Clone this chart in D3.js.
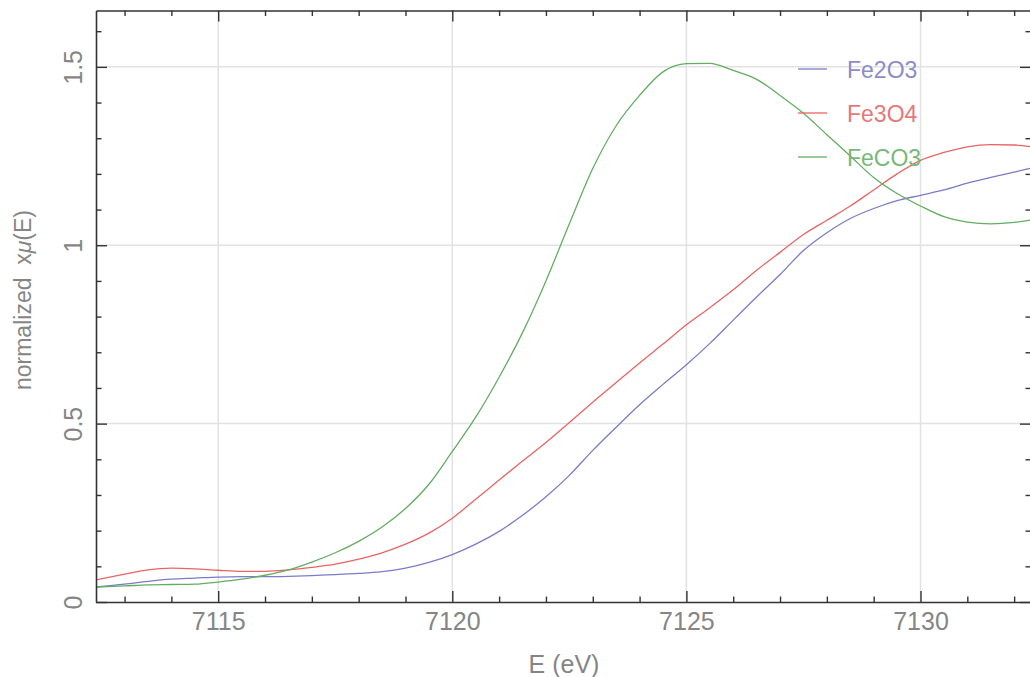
<!DOCTYPE html>
<html>
<head>
<meta charset="utf-8">
<script src="https://cdn.jsdelivr.net/npm/d3@7"></script>
<style>
  html, body { margin: 0; padding: 0; background: #fff; }
  svg { display: block; }
  text { font-family: "Liberation Sans", "DejaVu Sans", sans-serif; fill: #858585; }
</style>
</head>
<body>
<svg id="chart" width="1030" height="677"></svg>
<script>
// Photon energy grid (eV)
const energy = [7112.39, 7113, 7113.5, 7114, 7114.5, 7115, 7115.5, 7116, 7116.5, 7117,
  7117.5, 7118, 7118.5, 7119, 7119.5, 7120, 7120.5, 7121, 7121.5, 7122,
  7122.5, 7123, 7123.5, 7124, 7124.5, 7125, 7125.5, 7126, 7126.5, 7127,
  7127.5, 7128, 7128.5, 7129, 7129.5, 7130, 7130.5, 7131, 7131.5, 7132, 7132.36];

// Normalized absorption for each reference compound
const fe2o3 = [0.042, 0.050, 0.058, 0.064, 0.067, 0.070, 0.071, 0.071, 0.072, 0.074,
  0.077, 0.080, 0.085, 0.095, 0.111, 0.133, 0.162, 0.198, 0.243, 0.295,
  0.355, 0.425, 0.490, 0.553, 0.610, 0.665, 0.725, 0.790, 0.855, 0.918,
  0.985, 1.035, 1.075, 1.103, 1.125, 1.140, 1.155, 1.174, 1.190, 1.205, 1.216];

const fe3o4 = [0.062, 0.078, 0.090, 0.095, 0.093, 0.089, 0.086, 0.086, 0.090, 0.097,
  0.106, 0.120, 0.138, 0.162, 0.193, 0.235, 0.288, 0.342, 0.395, 0.447,
  0.503, 0.560, 0.615, 0.670, 0.723, 0.777, 0.825, 0.875, 0.930, 0.980,
  1.030, 1.070, 1.110, 1.155, 1.200, 1.238, 1.260, 1.276, 1.282, 1.281, 1.276];

const feco3 = [0.042, 0.045, 0.048, 0.049, 0.050, 0.056, 0.064, 0.075, 0.090, 0.112,
  0.138, 0.170, 0.210, 0.262, 0.330, 0.422, 0.518, 0.630, 0.755, 0.900,
  1.060, 1.215, 1.335, 1.420, 1.486, 1.509, 1.510, 1.490, 1.465, 1.420,
  1.370, 1.310, 1.250, 1.190, 1.145, 1.110, 1.080, 1.065, 1.060, 1.064, 1.071];

const seriesNames = ["Fe2O3", "Fe3O4", "FeCO3"];
const seriesColors = ["#7b7bc9", "#e86464", "#62ad62"];
const legendColors = ["#8c8cc8", "#e67878", "#78b878"];

const xMajorTicks = [7115, 7120, 7125, 7130];
const xMinorTicks = [7113, 7114, 7116, 7117, 7118, 7119, 7121, 7122, 7123, 7124,
  7126, 7127, 7128, 7129, 7131, 7132];
const yMajorTicks = [0, 0.5, 1, 1.5];
const yMinorTicks = [0.1, 0.2, 0.3, 0.4, 0.6, 0.7, 0.8, 0.9, 1.1, 1.2, 1.3, 1.4, 1.6];
const yTickLabels = ["0", "0.5", "1", "1.5"];

const xDomain = [7112.39, 7132.36];
const yDomain = [0, 1.658];

// Plot frame
const frameLeft = 96, frameTop = 10.5, frameRight = 1031, frameBottom = 602;
const W = frameRight - frameLeft, H = frameBottom - frameTop;

const svg = d3.select("#chart");
const x = d3.scaleLinear().domain(xDomain).range([0, W]);
const y = d3.scaleLinear().domain(yDomain).range([H, 0]);

const g = svg.append("g").attr("transform", `translate(${frameLeft},${frameTop})`);

svg.append("defs").append("clipPath").attr("id", "plotClip")
  .append("rect").attr("x", 0).attr("y", 0).attr("width", W).attr("height", H);

// Grid lines at the major ticks
const grid = g.append("g").attr("stroke", "#e2e2e2").attr("stroke-width", 1.5);
grid.selectAll("line.gx").data(xMajorTicks).join("line").attr("class", "gx")
  .attr("x1", d => x(d)).attr("x2", d => x(d)).attr("y1", 0).attr("y2", H);
grid.selectAll("line.gy").data(yMajorTicks.filter(v => v > 0)).join("line").attr("class", "gy")
  .attr("y1", d => y(d)).attr("y2", d => y(d)).attr("x1", 0).attr("x2", W);

// Curves
const rows = [fe2o3, fe3o4, feco3];
const line = d3.line()
  .x(d => x(d[0])).y(d => y(d[1]))
  .curve(d3.curveMonotoneX);
const curves = g.append("g").attr("clip-path", "url(#plotClip)");
rows.forEach((vals, i) => {
  curves.append("path")
    .datum(energy.map((e, j) => [e, vals[j]]))
    .attr("fill", "none")
    .attr("stroke", seriesColors[i])
    .attr("stroke-width", 1.3)
    .attr("d", line);
});

// Axes: inward ticks on all four sides
function styleAxis(sel) {
  sel.select(".domain").attr("stroke", "#333").attr("stroke-width", 1.6);
  sel.selectAll(".tick line").attr("stroke", "#333").attr("stroke-width", 1.4);
}

const fmtX = d3.format("d");

const xBottom = g.append("g").attr("transform", `translate(0,${H})`)
  .call(d3.axisBottom(x).tickValues(xMajorTicks).tickSizeInner(-11).tickSizeOuter(0)
    .tickPadding(10).tickFormat(fmtX));
styleAxis(xBottom);
xBottom.selectAll(".tick text")
  .attr("font-size", 25).attr("fill", "#858585").attr("dy", "0.72em")
  .style("font-family", '"Liberation Sans", sans-serif');

g.append("g").attr("transform", `translate(0,${H})`)
  .call(d3.axisBottom(x).tickValues(xMinorTicks).tickSize(-5.5).tickFormat(""))
  .call(s => { s.select(".domain").remove(); styleAxis(s); });

const xTopAxis = g.append("g")
  .call(d3.axisTop(x).tickValues(xMajorTicks).tickSizeInner(-11).tickSizeOuter(0).tickFormat(""));
styleAxis(xTopAxis);
g.append("g")
  .call(d3.axisTop(x).tickValues(xMinorTicks).tickSize(-5.5).tickFormat(""))
  .call(s => { s.select(".domain").remove(); styleAxis(s); });

const yLeft = g.append("g")
  .call(d3.axisLeft(y).tickValues(yMajorTicks).tickSizeInner(-11).tickSizeOuter(0)
    .tickFormat((d, i) => yTickLabels[i]));
styleAxis(yLeft);
yLeft.selectAll(".tick text")
  .attr("font-size", 25).attr("fill", "#858585")
  .attr("text-anchor", "middle")
  .attr("x", 0).attr("y", -14).attr("dy", null)
  .attr("transform", "rotate(-90)")
  .style("font-family", '"Liberation Sans", sans-serif');

g.append("g")
  .call(d3.axisLeft(y).tickValues(yMinorTicks).tickSize(-5.5).tickFormat(""))
  .call(s => { s.select(".domain").remove(); styleAxis(s); });

const yRight = g.append("g").attr("transform", `translate(${W},0)`)
  .call(d3.axisRight(y).tickValues(yMajorTicks).tickSizeInner(-11).tickSizeOuter(0).tickFormat(""));
styleAxis(yRight);
g.append("g").attr("transform", `translate(${W},0)`)
  .call(d3.axisRight(y).tickValues(yMinorTicks).tickSize(-5.5).tickFormat(""))
  .call(s => { s.select(".domain").remove(); styleAxis(s); });

// Axis titles
svg.append("text")
  .attr("x", 564).attr("y", 673)
  .attr("text-anchor", "middle")
  .attr("font-size", 25)
  .text("E (eV)");

const yTitle = svg.append("text")
  .attr("transform", "translate(31,300) rotate(-90)")
  .attr("text-anchor", "middle")
  .attr("font-size", 23)
  .attr("xml:space", "preserve");
yTitle.append("tspan").text("normalized  x");
yTitle.append("tspan").attr("font-style", "italic").text("μ");
yTitle.append("tspan").text("(E)");

// Legend
const legendX = 798, legendY0 = 69, legendStep = 44;
const legend = svg.append("g");
seriesNames.forEach((name, i) => {
  const ly = legendY0 + i * legendStep;
  legend.append("line")
    .attr("x1", legendX).attr("x2", legendX + 29)
    .attr("y1", ly).attr("y2", ly)
    .attr("stroke", seriesColors[i]).attr("stroke-width", 1.3);
  legend.append("text")
    .attr("x", legendX + 49).attr("y", ly + 8.5)
    .attr("font-size", 23)
    .style("fill", legendColors[i])
    .text(name);
});
</script>
</body>
</html>
